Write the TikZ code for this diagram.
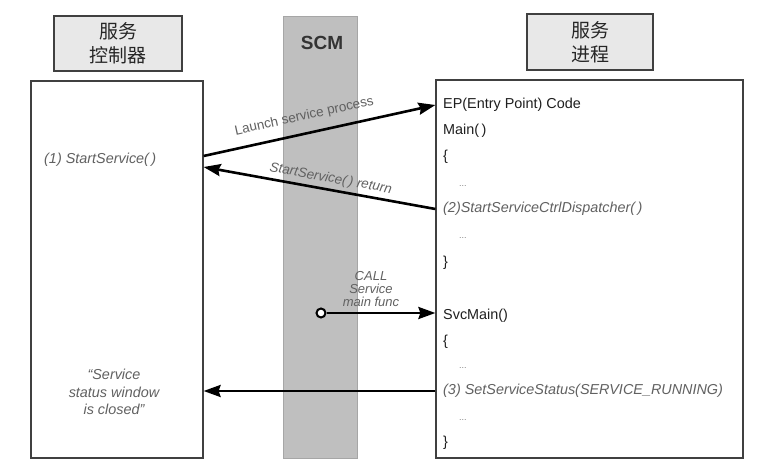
\documentclass[tikz,border=0pt]{standalone}
\usepackage{fontspec}
\setmainfont{Liberation Sans}
\newfontfamily\cjk{Noto Sans CJK SC}
\usetikzlibrary{arrows.meta,calc}
\begin{document}
\begin{tikzpicture}[x=1pt,y=-1pt,
  hdr/.style={draw=black!75, line width=1.2pt, fill=black!9, inner sep=0, align=center, text=black!85, font=\cjk\fontsize{19}{24}\selectfont},
  frame/.style={draw=black!75, line width=1.2pt, fill=white, inner sep=0},
  code/.style={anchor=west, inner sep=0, font=\fontsize{14.4}{17}\selectfont, text=black!88},
  icode/.style={anchor=west, inner sep=0, font=\fontsize{14.4}{17}\selectfont\itshape, text=black!62},
  dots/.style={anchor=west, inner sep=0, font=\fontsize{9}{10}\selectfont, text=black!50},
  lbl/.style={font=\fontsize{13.5}{15}\selectfont, text=black!62},
  arr/.style={line width=2.6pt, -{Stealth[length=17pt,width=12pt,inset=2pt]}},
]
\useasboundingbox (0,0) rectangle (780,473);
\fill[white] (0,0) rectangle (780,473);

% SCM strip
\node[draw=black!35, line width=0.6pt, fill=black!25, minimum width=74pt, minimum height=442pt, inner sep=0] (scm) at (320,237) {};
\node[font=\bfseries\fontsize{19}{22}\selectfont, text=black!80] (scmt) at (322,43) {SCM};

% headers
\node[hdr, minimum width=128pt, minimum height=55pt] (lhdr) at (118,43.5) {服务\\控制器};
\node[hdr, minimum width=126pt, minimum height=56pt] (rhdr) at (590,42) {服务\\进程};

% frames
\node[frame, minimum width=172pt, minimum height=377pt] (lbox) at (117,269.5) {};
\node[frame, minimum width=307pt, minimum height=378pt] (rbox) at (589.5,269) {};

% left texts
\node[icode] (ss1) at (44,160) {(1) StartService(\,)};
\node[icode, anchor=center, align=center, font=\fontsize{14.4}{17.5}\selectfont\itshape] (closed) at (114,392) {\textquotedblleft Service\\status window\\is closed\textquotedblright};

% right texts
\node[code] (ep) at (443,105) {EP(Entry Point) Code};
\node[code] (mainf) at (443,131) {Main(\,)};
\node[code] (ob1) at (443,157) {\{};
\node[dots] (d1) at (459,186) {...};
\node[icode] (disp) at (443,209) {(2)StartServiceCtrlDispatcher(\,)};
\node[dots] (d2) at (459,238) {...};
\node[code] (cb1) at (443,263) {\}};
\node[code] (svc) at (443,316) {SvcMain()};
\node[code] (ob2) at (443,342) {\{};
\node[dots] (d3) at (459,368) {...};
\node[icode] (sss) at (443,391) {(3) SetServiceStatus(SERVICE\_RUNNING)};
\node[dots] (d4) at (459,420) {...};
\node[code] (cb2) at (443,443) {\}};

% arrows
\draw[arr] ($(lbox.east |- ss1)+(0,-4)$) -- node[lbl, pos=0.45, sloped, above=6pt] (lsp) {Launch service process} (rbox.west |- ep);
\draw[arr] (rbox.west |- disp) -- node[lbl, pos=0.46, sloped, above=0pt, font=\fontsize{13.5}{15}\selectfont\itshape] (ssr) {StartService(\,) return} ($(lbox.east |- ss1)+(0,7)$);
\node[circle, draw=black, line width=2pt, fill=white, minimum size=9pt, inner sep=0] (callpt) at (321,313) {};
\draw[arr] (callpt) -- (rbox.west |- callpt);
\node[lbl, align=center, font=\fontsize{13}{12.8}\selectfont\itshape] (calll) at (371,289) {CALL\\Service\\main func};
\draw[arr] (rbox.west |- sss) -- (lbox.east |- sss);
\end{tikzpicture}
\end{document}
